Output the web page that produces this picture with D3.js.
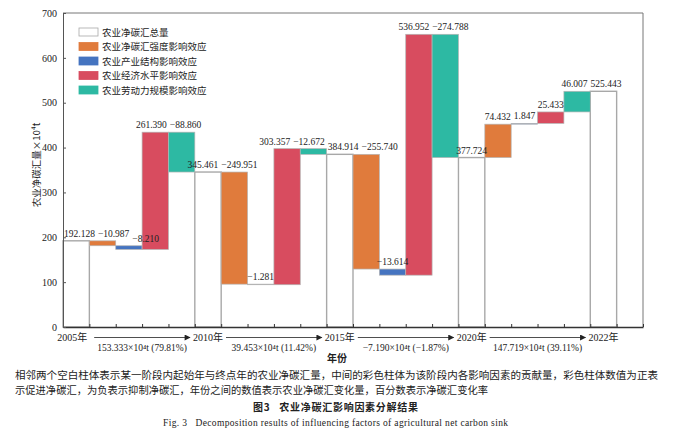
<!DOCTYPE html>
<html>
<head>
<meta charset="utf-8">
<script src="https://cdn.jsdelivr.net/npm/d3@7"></script>
<style>
  body { margin: 0; background: #fff; }
  text { font-family: "Liberation Serif", "Noto Sans CJK SC", serif; fill: #222; }
  .cjk { font-family: "Noto Sans CJK SC", sans-serif; }
</style>
</head>
<body>
<script>
// years bounding each stage and the net carbon sink at those years (10^4 t)
const years = ["2005年", "2010年", "2015年", "2020年", "2022年"];
const totals = [192.128, 345.461, 384.914, 377.724, 525.443];

// factor contributions per stage, order = factors
const factors = ["农业净碳汇强度影响效应", "农业产业结构影响效应", "农业经济水平影响效应", "农业劳动力规模影响效应"];
const effects = [
    [-10.987, -8.210, 261.390, -88.860],
    [-249.951, -1.281, 303.357, -12.672],
    [-255.740, -13.614, 536.952, -274.788],
    [74.432, 1.847, 25.433, 46.007]
];

// change between years and change rate
const changes = ["153.333", "39.453", "−7.190", "147.719"];
const changeRates = ["79.81%", "11.42%", "−1.87%", "39.11%"];

const yTicks = [0, 100, 200, 300, 400, 500, 600, 700];
const totalName = "农业净碳汇总量";
const colors = ["#e07b3c", "#4574c0", "#d84c5f", "#2db9a3"];

(function () {
    'use strict';

    const W = 675, H = 432;
    const mLeft = 63, mRight = 643, mTop = 13, mBottom = 327;

    const svg = d3.select("body").append("svg")
        .attr("width", W).attr("height", H);

    const x = d3.scaleLinear().domain([0, 22]).range([mLeft, mRight]);
    const y = d3.scaleLinear().domain([0, 700]).range([mBottom, mTop]);
    const fmt = v => d3.format(".3f")(v).replace("-", "−");

    // build the waterfall pieces
    const bars = [];
    totals.forEach((t, s) => {
        bars.push({slot: s * 5, y0: 0, y1: t, total: true, label: fmt(t)});
        if (s < effects.length) {
            let cur = t;
            effects[s].forEach((v, k) => {
                bars.push({slot: s * 5 + k + 1, y0: cur, y1: cur + v, k: k, total: false, label: fmt(v)});
                cur += v;
            });
        }
    });

    // frame (top + right)
    svg.append("path")
        .attr("d", `M${mLeft},${mTop}H${mRight}V${mBottom}`)
        .attr("fill", "none").attr("stroke", "#777").attr("stroke-width", 1);

    const g = svg.append("g");

    g.selectAll("rect.total")
        .data(bars.filter(d => d.total))
        .join("rect")
        .attr("class", "total")
        .attr("x", d => x(d.slot))
        .attr("width", x(1) - x(0))
        .attr("y", d => y(d.y1))
        .attr("height", d => y(0) - y(d.y1))
        .attr("fill", "#fff")
        .attr("stroke", "#a8a8a8")
        .attr("stroke-width", 1.4);

    g.selectAll("rect.eff")
        .data(bars.filter(d => !d.total))
        .join("rect")
        .attr("class", "eff")
        .attr("x", d => x(d.slot))
        .attr("width", x(1) - x(0))
        .attr("y", d => y(Math.max(d.y0, d.y1)))
        .attr("height", d => Math.abs(y(d.y0) - y(d.y1)))
        .attr("fill", d => colors[d.k])
        .attr("stroke", "#b4b4b4")
        .attr("stroke-width", 0.7);

    // value labels
    const vals = g.selectAll("text.val")
        .data(bars)
        .join("text")
        .attr("class", "val")
        .attr("y", d => y(Math.max(d.y0, d.y1)) - 4)
        .attr("text-anchor", "middle")
        .attr("font-size", 9.5)
        .text(d => d.label);

    // spread labels that would collide with their neighbour
    vals.each(function (d) {
        d.w = this.getComputedTextLength();
        d.cx = Math.max(x(d.slot + 0.5), mLeft + d.w / 2 + 1);
        d.ty = y(Math.max(d.y0, d.y1));
    });
    const gap = 3;
    for (let it = 0; it < 30; it++) {
        for (let i = 0; i < bars.length - 1; i++) {
            const a = bars[i], b = bars[i + 1];
            if (Math.abs(a.ty - b.ty) > 10) continue;
            const ov = (a.cx + a.w / 2 + gap) - (b.cx - b.w / 2);
            if (ov <= 0) continue;
            if (i === 0) { b.cx += ov; }
            else { a.cx -= ov / 2; b.cx += ov / 2; }
        }
    }
    vals.attr("x", d => d.cx);

    // axes
    const xAxis = d3.axisBottom(x)
        .tickValues(d3.range(0, 23))
        .tickSizeInner(-3).tickSizeOuter(0)
        .tickFormat("");
    svg.append("g")
        .attr("transform", `translate(0,${mBottom})`)
        .call(xAxis)
        .call(a => a.select(".domain").attr("stroke", "#333").attr("stroke-width", 1.3))
        .call(a => a.selectAll(".tick line").attr("stroke", "#333"));

    const yAxis = d3.axisLeft(y)
        .tickValues(yTicks)
        .tickSizeInner(-3).tickSizeOuter(0)
        .tickPadding(6);
    svg.append("g")
        .attr("transform", `translate(${mLeft},0)`)
        .call(yAxis)
        .call(a => a.select(".domain").attr("stroke", "#555"))
        .call(a => a.selectAll(".tick line").attr("stroke", "#555"))
        .call(a => a.selectAll("text")
            .attr("font-family", "Liberation Serif").attr("font-size", 10).attr("fill", "#333"));

    svg.append("text")
        .attr("class", "cjk")
        .attr("transform", `translate(40,${(mTop + mBottom) / 2 - 5}) rotate(-90)`)
        .attr("text-anchor", "middle")
        .attr("font-size", 9.5)
        .text("农业净碳汇量×10⁴t");

    // year labels and arrows under the axis
    const yearY = 341;
    const centers = years.map((_, s) => x(s * 5 + 0.5));
    svg.selectAll("text.year")
        .data(years)
        .join("text")
        .attr("class", "year")
        .attr("x", (d, i) => centers[i] - (i === 0 ? 4 : 0))
        .attr("y", yearY)
        .attr("text-anchor", "middle")
        .attr("font-size", 10)
        .text(d => d);

    svg.append("defs").append("marker")
        .attr("id", "head")
        .attr("viewBox", "0 0 10 10")
        .attr("refX", 9).attr("refY", 5)
        .attr("markerWidth", 8).attr("markerHeight", 6)
        .attr("markerUnits", "userSpaceOnUse")
        .attr("orient", "auto")
        .append("path").attr("d", "M0,0L10,5L0,10Z").attr("fill", "#222");

    svg.selectAll("line.arrow")
        .data(changes)
        .join("line")
        .attr("class", "arrow")
        .attr("x1", (d, i) => centers[i] + 18)
        .attr("x2", (d, i) => centers[i + 1] - 18)
        .attr("y1", yearY - 3.5).attr("y2", yearY - 3.5)
        .attr("stroke", "#222").attr("stroke-width", 0.8)
        .attr("marker-end", "url(#head)");

    svg.selectAll("text.change")
        .data(changes)
        .join("text")
        .attr("class", "change")
        .attr("x", (d, i) => (centers[i] + centers[i + 1]) / 2)
        .attr("y", 351)
        .attr("text-anchor", "middle")
        .attr("font-size", 9.5)
        .text((d, i) => `${d}×10⁴t (${changeRates[i]})`);

    svg.append("text")
        .attr("class", "cjk")
        .attr("x", 337).attr("y", 362)
        .attr("text-anchor", "middle")
        .attr("font-size", 10).attr("font-weight", "bold")
        .text("年份");

    // legend
    const legendItems = [{name: totalName, fill: "#fff", stroke: "#a8a8a8"}]
        .concat(factors.map((f, i) => ({name: f, fill: colors[i], stroke: colors[i]})));
    const lg = svg.append("g").selectAll("g")
        .data(legendItems)
        .join("g")
        .attr("transform", (d, i) => `translate(79,${32 + i * 14.5})`);
    lg.append("rect")
        .attr("x", 0).attr("y", -4).attr("width", 19).attr("height", 8)
        .attr("fill", d => d.fill).attr("stroke", d => d.stroke).attr("stroke-width", 0.8);
    lg.append("text")
        .attr("class", "cjk")
        .attr("x", 23).attr("y", 3.5)
        .attr("font-size", 9.5)
        .text(d => d.name);

    // caption
    const note1 = "相邻两个空白柱体表示某一阶段内起始年与终点年的农业净碳汇量，中间的彩色柱体为该阶段内各影响因素的贡献量，彩色柱体数值为正表";
    const note2 = "示促进净碳汇，为负表示抑制净碳汇，年份之间的数值表示农业净碳汇变化量，百分数表示净碳汇变化率";
    svg.append("text").attr("class", "cjk")
        .attr("x", 15).attr("y", 379).attr("font-size", 10.5)
        .attr("textLength", 643).attr("lengthAdjust", "spacingAndGlyphs")
        .text(note1);
    svg.append("text").attr("class", "cjk")
        .attr("x", 15).attr("y", 394).attr("font-size", 10.5)
        .attr("textLength", 473).attr("lengthAdjust", "spacingAndGlyphs")
        .text(note2);
    svg.append("text").attr("class", "cjk")
        .attr("x", 253).attr("y", 411)
        .attr("font-size", 10).attr("font-weight", "bold")
        .attr("xml:space", "preserve")
        .attr("textLength", 165).attr("lengthAdjust", "spacing")
        .text("图3   农业净碳汇影响因素分解结果");
    svg.append("text")
        .attr("x", 163).attr("y", 426)
        .attr("font-size", 9.5)
        .attr("xml:space", "preserve")
        .attr("textLength", 345).attr("lengthAdjust", "spacing")
        .text("Fig. 3   Decomposition results of influencing factors of agricultural net carbon sink");
}());
</script>
</body>
</html>
